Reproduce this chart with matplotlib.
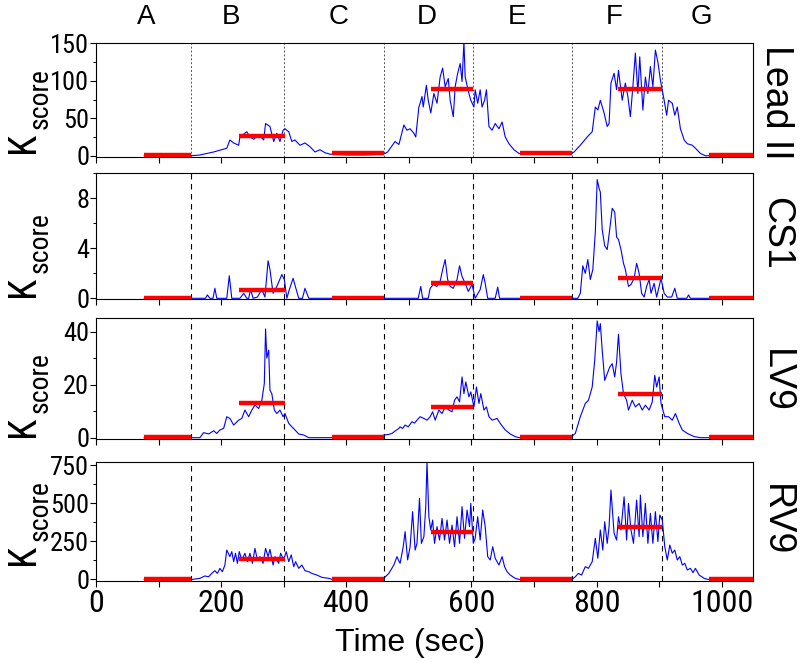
import matplotlib
matplotlib.use('Agg')
import matplotlib.pyplot as plt
import matplotlib.transforms as mtransforms
from matplotlib.ticker import MultipleLocator
from matplotlib import font_manager

names = {f.name for f in font_manager.fontManager.ttflist}
NARROW = 'Liberation Sans'
for cand in ['Liberation Sans Narrow', 'Arial Narrow', 'Roboto Condensed', 'PT Sans Narrow',
             'Archivo Narrow', 'Open Sans Condensed', 'Asap Condensed', 'Barlow Condensed']:
    if cand in names:
        NARROW = cand
        break
REG = 'Liberation Sans'
plt.rcParams['font.family'] = [REG, 'DejaVu Sans']

# ---------------- data ----------------
phases = ['A', 'B', 'C', 'D', 'E', 'F', 'G']
phase_label_x = [81, 216, 388, 528, 673, 828, 967]
phase_bounds = [152, 300, 460, 602, 760, 904]
bar_start = [77, 228, 377, 535, 677, 834, 980]
bar_end = [152, 302, 460, 603, 760, 905, 1050]

channels = ['Lead II', 'CS1', 'LV9', 'RV9']

lead2_t = [77, 150, 153, 166, 188, 209, 214, 220, 228, 230, 241, 246, 252, 260, 268, 271, 278, 284, 289, 294,
           299, 302, 308, 313, 318, 326, 334, 342, 350, 358, 366, 374, 380, 400, 430, 455, 462, 466, 472, 478,
           484, 486, 492, 497, 502, 508, 511, 516, 518, 521, 523, 528, 531, 535, 540, 545, 550, 554, 558, 563,
           566, 571, 574, 578, 582, 585, 588, 590, 596, 599, 604, 606, 610, 614, 617, 621, 624, 628, 633, 638,
           644, 649, 654, 660, 668, 676, 700, 740, 760, 764, 774, 785, 793, 798, 802, 806, 812, 817, 820, 823,
           828, 832, 835, 841, 846, 850, 854, 858, 862, 866, 869, 874, 878, 882, 886, 890, 894, 898, 902, 908,
           912, 915, 921, 925, 929, 934, 940, 945, 953, 958, 966, 974, 1050]
lead2_v = [0, 0, 0, 1, 5, 10, 21, 17, 14, 25, 32, 25, 22, 28, 21, 43, 39, 19, 30, 19,
           34, 36, 32, 19, 21, 14, 17, 12, 5, 8, 4, 2, 2, 1, 1, 2, 3, 5, 12, 19,
           15, 21, 41, 34, 36, 30, 25, 65, 70, 79, 65, 94, 74, 57, 83, 70, 105, 117, 92, 103,
           74, 52, 92, 110, 123, 99, 152, 105, 83, 74, 65, 88, 70, 88, 65, 74, 88, 39, 34, 43,
           36, 45, 25, 16, 8, 3, 2, 2, 3, 5, 14, 25, 32, 65, 61, 74, 57, 39, 43, 97,
           110, 88, 114, 74, 97, 79, 52, 92, 137, 83, 132, 61, 105, 83, 119, 92, 141, 125, 101, 74,
           54, 74, 70, 54, 65, 36, 21, 16, 14, 10, 3, 0, 0]

cs1_t = [77, 175, 178, 182, 187, 190, 193, 209, 213, 217, 230, 236, 241, 244, 247, 251, 258, 265, 270, 275,
         278, 283, 289, 297, 301, 305, 309, 315, 320, 324, 330, 334, 340, 515, 519, 522, 531, 534, 539, 545,
         550, 554, 558, 562, 566, 571, 577, 581, 585, 590, 595, 601, 606, 614, 619, 622, 626, 638, 642, 645,
         770, 774, 778, 782, 786, 790, 794, 798, 801, 804, 806, 809, 813, 817, 821, 825, 829, 832, 835, 839,
         843, 846, 851, 855, 860, 864, 868, 872, 876, 880, 884, 887, 892, 896, 900, 903, 908, 913, 920, 925,
         929, 944, 947, 950, 1050]
cs1_v = [0, 0, 0.27, 0, 0, 0.8, 0, 0, 1.8, 0, 0, 0.4, 0, 0, 0.7, 0, 0.1, 0.7, 0.1, 3.0,
         2.3, 0.4, 0.95, 1.9, 1.5, 0, 0.7, 1.6, 0.7, 0, 0, 0.8, 0, 0, 0.95, 0, 0, 0.8, 1.1, 0.95,
         1.35, 2.3, 3.1, 1.5, 0.95, 0.8, 1.5, 2.6, 1.75, 1.2, 0.55, 1.1, 0, 0.7, 1.9, 1.2, 0, 0, 0.9, 0,
         0, 0.4, 2.6, 2.0, 3.1, 1.5, 2.3, 5.3, 9.5, 8.8, 8.5, 5.5, 4.2, 3.9, 5.5, 7.2, 6.9, 4.9, 4.7, 3.9,
         2.8, 2.3, 0.95, 1.1, 1.6, 2.8, 2.0, 0.4, 0.1, 0.95, 1.5, 0.4, 1.2, 0.1, 0.95, 1.6, 0.4, 0.1, 0.1, 0.8,
         0, 0, 0.27, 0, 0]

lv9_t = [77, 160, 166, 172, 180, 188, 193, 198, 204, 209, 214, 220, 228, 233, 238, 244, 249, 254, 260, 265,
         269, 271, 273, 276, 278, 281, 285, 289, 294, 299, 302, 308, 313, 318, 324, 332, 340, 455, 460, 467,
         473, 478, 484, 486, 490, 494, 499, 505, 509, 513, 518, 524, 529, 534, 538, 542, 548, 553, 558, 564,
         569, 573, 577, 581, 585, 588, 591, 596, 599, 604, 608, 612, 615, 620, 624, 628, 633, 641, 646, 654,
         662, 670, 676, 758, 766, 774, 782, 787, 793, 797, 801, 804, 806, 809, 813, 817, 821, 825, 829, 832,
         835, 839, 843, 848, 851, 857, 862, 868, 873, 878, 884, 889, 893, 896, 900, 903, 909, 915, 921, 926,
         932, 937, 945, 956, 966, 1050]
lv9_v = [0, 0, 0, 1.9, 1.4, 2.6, 1.6, 2.9, 3.5, 7.9, 7.25, 4.75, 6.6, 7.25, 10.4, 7.9, 10.4, 12.25, 11, 14.1,
         20.4, 41, 30, 33, 17.9, 16.6, 10.4, 9.1, 10.4, 7.9, 9.1, 5.4, 4.1, 2.9, 1.4, 1, 0, 0, 1, 1.2,
         1.6, 2.5, 3.5, 4.1, 3.5, 4.75, 4.1, 6, 5.5, 6.6, 7.9, 7.25, 6.6, 7.9, 9.75, 6.6, 10.4, 9.1, 11.6, 10.4,
         9.75, 14.1, 15.4, 13.5, 22.9, 16.6, 21, 15.4, 17.25, 11.6, 19.1, 12.9, 16.6, 10.4, 11.6, 7.9, 6.6, 7.25, 5.4, 2.9,
         1.4, 0.4, 0, 0, 1.6, 7.9, 12.9, 14.1, 19.1, 29.1, 44, 40, 43, 33, 21.6, 24.1, 26.6, 27.9, 22.9, 28.5,
         39, 24.1, 16.6, 14.1, 10.4, 14.1, 11.6, 12.9, 10.4, 12.25, 10.4, 13.5, 23.5, 19.1, 22.9, 12.9, 7.9, 7.9, 6.6, 9.1,
         5.4, 2.9, 1.6, 0.4, 0, 0]

rv9_t = [77, 155, 166, 174, 180, 185, 190, 194, 198, 202, 206, 209, 214, 217, 220, 223, 226, 229, 233, 238,
         242, 246, 250, 254, 258, 262, 267, 271, 275, 278, 283, 286, 292, 295, 300, 304, 308, 312, 316, 319,
         324, 329, 334, 340, 345, 353, 361, 372, 377, 455, 460, 468, 476, 481, 484, 486, 491, 494, 498, 502,
         506, 510, 513, 517, 520, 524, 527, 529, 532, 535, 538, 541, 545, 549, 553, 557, 561, 565, 569, 573,
         577, 581, 585, 589, 593, 597, 599, 603, 606, 610, 614, 618, 622, 626, 630, 634, 638, 644, 649, 653,
         657, 662, 670, 676, 761, 766, 771, 776, 782, 787, 793, 798, 802, 806, 810, 813, 817, 820, 823, 828,
         832, 835, 839, 844, 848, 851, 855, 859, 864, 868, 870, 874, 878, 882, 886, 890, 894, 898, 901, 905,
         909, 913, 917, 921, 925, 929, 933, 937, 941, 945, 950, 954, 958, 964, 972, 977, 1050]
rv9_v = [0, 0, 6.5, 22, 17, 39, 57, 39, 72, 50, 94, 192, 149, 182, 116, 171, 105, 182, 127, 171,
         116, 171, 105, 203, 127, 149, 105, 203, 149, 197, 94, 149, 105, 171, 127, 182, 116, 160, 83, 116,
         72, 94, 57, 50, 39, 28, 13, 6.5, 0, 0, 6.5, 39, 94, 149, 120, 105, 214, 313, 127, 214,
         444, 192, 236, 531, 236, 280, 477, 772, 411, 324, 389, 236, 346, 258, 400, 258, 389, 236, 356, 214,
         411, 236, 477, 269, 455, 346, 499, 236, 269, 411, 258, 455, 346, 149, 127, 214, 138, 94, 149, 83,
         50, 28, 6.5, 0, 0, 17, 39, 28, 83, 72, 116, 269, 138, 324, 192, 378, 236, 346, 586, 302,
         258, 411, 324, 542, 258, 499, 324, 236, 520, 280, 553, 280, 499, 236, 433, 236, 444, 247, 422, 389,
         214, 127, 225, 171, 192, 127, 149, 94, 105, 61, 72, 44, 72, 28, 6.5, 0, 0]

bar_levels = [
    [0.5, 26, 3, 89, 3, 89, 0.5],
    [0.05, 0.68, 0.05, 1.2, 0.05, 1.6, 0.05],
    [0.1, 13.1, 0.3, 11.4, 0.1, 16.4, 0.1],
    [4, 136, 4, 313, 4, 341, 4],
]

series_t = [lead2_t, cs1_t, lv9_t, rv9_t]
series_v = [lead2_v, cs1_v, lv9_v, rv9_v]

# ---------------- layout ----------------
W, H = 800, 667
panels_px = [(43.3, 157.3), (173.3, 299.3), (318.3, 439.0), (461.7, 580.7)]
ylims = [(-2.1, 150), (-0.08, 10), (-0.5, 45), (-9, 772)]
ymajor = [50, 4, 20, 250]
yminor = [25, 2, 10, 125]
ktop_px = [153, 297, 437, 565]
right_label_y = [102, 233, 381, 520]

fig = plt.figure(figsize=(8, 6.67), dpi=100)
left_px, right_px = 96, 753

axes = []
for i in range(4):
    top, bot = panels_px[i]
    ax = fig.add_axes([left_px / W, 1 - bot / H, (right_px - left_px) / W, (bot - top) / H])
    axes.append(ax)
    ax.set_xlim(0, 1050)
    ax.set_ylim(*ylims[i])
    for b in phase_bounds:
        if i == 0:
            ax.axvline(b, color='#555555', lw=0.7, ls=(0, (2, 2)), zorder=1)
        else:
            ax.axvline(b, color='black', lw=0.8, ls=(0, (5, 4)), zorder=1)
    ax.plot(series_t[i], series_v[i], color='#0000ff', lw=0.8, zorder=2)
    for s, e, lv in zip(bar_start, bar_end, bar_levels[i]):
        ax.plot([s, e], [lv, lv], color='#ff0000', lw=3.2, solid_capstyle='butt', zorder=3)

    ax.yaxis.set_major_locator(MultipleLocator(ymajor[i]))
    ax.yaxis.set_minor_locator(MultipleLocator(yminor[i]))
    ax.xaxis.set_major_locator(MultipleLocator(200))
    ax.xaxis.set_minor_locator(MultipleLocator(100))
    ax.tick_params(axis='y', which='major', direction='out', length=4, width=0.8,
                   labelsize=19, pad=1, left=True, right=False)
    ax.tick_params(axis='y', which='minor', direction='out', length=2.5, width=0.7, left=True, right=False)
    ax.tick_params(axis='x', which='both', direction='out', length=4, width=0.8,
                   labelsize=23, pad=2, bottom=True, top=False)
    for lab in ax.get_yticklabels():
        lab.set_family(NARROW)
    for sp in ax.spines.values():
        sp.set_linewidth(0.8)
    if i < 3:
        ax.tick_params(axis='x', labelbottom=False)
    else:
        for lab in ax.get_xticklabels():
            lab.set_family(NARROW)

    # y label K_score
    fig.text(34 / W, 1 - ktop_px[i] / H, 'K', rotation=90, rotation_mode='anchor',
             ha='left', va='baseline', fontsize=28, family=NARROW)
    fig.text(48 / W, 1 - (ktop_px[i] - 24) / H, 'score', rotation=90, rotation_mode='anchor',
             ha='left', va='baseline', fontsize=20, family=NARROW)
    # channel label on right
    fig.text(776 / W, 1 - right_label_y[i] / H, channels[i], rotation=270,
             ha='center', va='center', fontsize=27, family=REG)

# phase letters on top
tr = mtransforms.blended_transform_factory(axes[0].transData, fig.transFigure)
for lx, name in zip(phase_label_x, phases):
    axes[0].text(lx, 1 - 17 / H, name, transform=tr, ha='center', va='center', fontsize=20, family=REG)

fig.text(410 / W, 1 - 643 / H, 'Time (sec)', ha='center', va='center', fontsize=23, family=REG)

fig.savefig('out.png', dpi=100)
